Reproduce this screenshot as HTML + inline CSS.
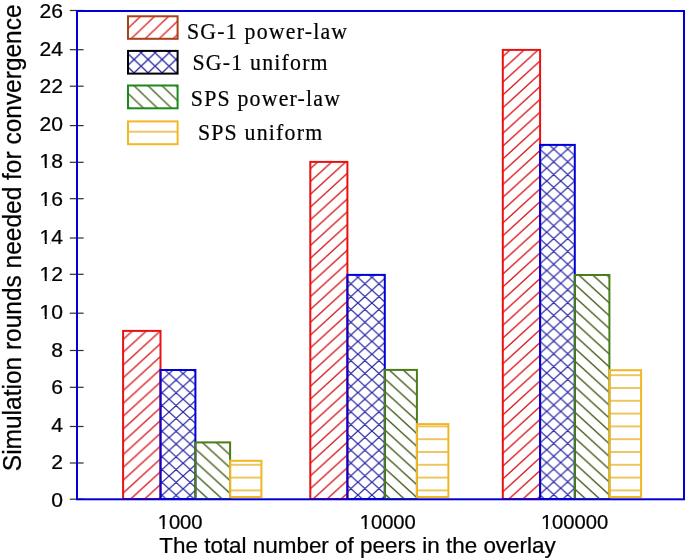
<!DOCTYPE html>
<html><head><meta charset="utf-8"><style>
html,body{margin:0;padding:0;background:#fff;}
svg{display:block;}
.tk{font-family:"Liberation Sans",sans-serif;font-size:20.6px;fill:#000;stroke:#000;stroke-width:0.25px;}
.xl{font-family:"Liberation Sans",sans-serif;font-size:21.8px;fill:#000;stroke:#000;stroke-width:0.25px;}
.yl{font-family:"Liberation Sans",sans-serif;font-size:24.4px;fill:#000;stroke:#000;stroke-width:0.25px;}
.lg{font-family:"Liberation Serif",serif;font-size:23px;fill:#000;letter-spacing:1.26px;stroke:#000;stroke-width:0.22px;}
</style></head><body>
<svg width="685" height="558" viewBox="0 0 685 558">
<defs>
<filter id="nop" x="0" y="0" width="1" height="1"><feOffset dx="0" dy="0"/></filter>
<pattern id="p1" patternUnits="userSpaceOnUse" x="124.40" y="466.30" width="14.0" height="12.8"><path d="M-7.0,6.4 L7.0,-6.4 M0,12.8 L14.0,0 M7.0,19.200000000000003 L21.0,6.4" stroke="#d81e1e" stroke-width="1.3" fill="none"/></pattern>
<pattern id="p2" patternUnits="userSpaceOnUse" x="169.10" y="450.40" width="14.0" height="12.8"><path d="M-7.0,6.4 L7.0,-6.4 M0,12.8 L14.0,0 M7.0,19.200000000000003 L21.0,6.4 M-7.0,6.4 L7.0,19.200000000000003 M0,0 L14.0,12.8 M7.0,-6.4 L21.0,6.4" stroke="#2424a4" stroke-width="1.25" fill="none"/></pattern>
<pattern id="p3" patternUnits="userSpaceOnUse" x="196.30" y="462.50" width="14.0" height="12.8"><path d="M-7.0,6.4 L7.0,19.200000000000003 M0,0 L14.0,12.8 M7.0,-6.4 L21.0,6.4" stroke="#405e1a" stroke-width="1.3" fill="none"/></pattern>
<pattern id="p4" patternUnits="userSpaceOnUse" x="0.00" y="464.80" width="14.0" height="12.8"><path d="M-1,0 L15.0,0 M-1,12.8 L15.0,12.8" stroke="#e8b42c" stroke-width="1.3" fill="none"/></pattern>
<pattern id="p5" patternUnits="userSpaceOnUse" x="311.90" y="487.30" width="14.0" height="12.8"><path d="M-7.0,6.4 L7.0,-6.4 M0,12.8 L14.0,0 M7.0,19.200000000000003 L21.0,6.4" stroke="#d81e1e" stroke-width="1.3" fill="none"/></pattern>
<pattern id="p6" patternUnits="userSpaceOnUse" x="357.90" y="315.80" width="14.0" height="12.8"><path d="M-7.0,6.4 L7.0,-6.4 M0,12.8 L14.0,0 M7.0,19.200000000000003 L21.0,6.4 M-7.0,6.4 L7.0,19.200000000000003 M0,0 L14.0,12.8 M7.0,-6.4 L21.0,6.4" stroke="#2424a4" stroke-width="1.25" fill="none"/></pattern>
<pattern id="p7" patternUnits="userSpaceOnUse" x="385.90" y="469.30" width="14.0" height="12.8"><path d="M-7.0,6.4 L7.0,19.200000000000003 M0,0 L14.0,12.8 M7.0,-6.4 L21.0,6.4" stroke="#405e1a" stroke-width="1.3" fill="none"/></pattern>
<pattern id="p8" patternUnits="userSpaceOnUse" x="0.00" y="464.80" width="14.0" height="12.8"><path d="M-1,0 L15.0,0 M-1,12.8 L15.0,12.8" stroke="#e8b42c" stroke-width="1.3" fill="none"/></pattern>
<pattern id="p9" patternUnits="userSpaceOnUse" x="504.00" y="465.10" width="14.0" height="12.8"><path d="M-7.0,6.4 L7.0,-6.4 M0,12.8 L14.0,0 M7.0,19.200000000000003 L21.0,6.4" stroke="#d81e1e" stroke-width="1.3" fill="none"/></pattern>
<pattern id="p10" patternUnits="userSpaceOnUse" x="546.70" y="475.40" width="14.0" height="12.8"><path d="M-7.0,6.4 L7.0,-6.4 M0,12.8 L14.0,0 M7.0,19.200000000000003 L21.0,6.4 M-7.0,6.4 L7.0,19.200000000000003 M0,0 L14.0,12.8 M7.0,-6.4 L21.0,6.4" stroke="#2424a4" stroke-width="1.25" fill="none"/></pattern>
<pattern id="p11" patternUnits="userSpaceOnUse" x="575.90" y="477.20" width="14.0" height="12.8"><path d="M-7.0,6.4 L7.0,19.200000000000003 M0,0 L14.0,12.8 M7.0,-6.4 L21.0,6.4" stroke="#405e1a" stroke-width="1.3" fill="none"/></pattern>
<pattern id="p12" patternUnits="userSpaceOnUse" x="0.00" y="464.80" width="14.0" height="12.8"><path d="M-1,0 L15.0,0 M-1,12.8 L15.0,12.8" stroke="#e8b42c" stroke-width="1.3" fill="none"/></pattern>
<pattern id="p13" patternUnits="userSpaceOnUse" x="128.70" y="27.70" width="14.0" height="13.4"><path d="M-7.0,6.7 L7.0,-6.7 M0,13.4 L14.0,0 M7.0,20.1 L21.0,6.7" stroke="#d81e1e" stroke-width="1.3" fill="none"/></pattern>
<pattern id="p14" patternUnits="userSpaceOnUse" x="148.10" y="59.50" width="14.0" height="13.4"><path d="M-7.0,6.7 L7.0,-6.7 M0,13.4 L14.0,0 M7.0,20.1 L21.0,6.7 M-7.0,6.7 L7.0,20.1 M0,0 L14.0,13.4 M7.0,-6.7 L21.0,6.7" stroke="#2424a4" stroke-width="1.3" fill="none"/></pattern>
<pattern id="p15" patternUnits="userSpaceOnUse" x="145.60" y="96.80" width="14.0" height="13.4"><path d="M-7.0,6.7 L7.0,20.1 M0,0 L14.0,13.4 M7.0,-6.7 L21.0,6.7" stroke="#405e1a" stroke-width="1.3" fill="none"/></pattern>
<pattern id="p16" patternUnits="userSpaceOnUse" x="0.00" y="131.70" width="14.0" height="13.4"><path d="M-1,0 L15.0,0 M-1,13.4 L15.0,13.4" stroke="#e8b42c" stroke-width="1.3" fill="none"/></pattern>
</defs>
<rect x="0" y="0" width="685" height="558" fill="#fff"/>
<rect x="123.10" y="330.90" width="37.40" height="168.10" fill="url(#p1)" stroke="#e81212" stroke-width="2"/>
<rect x="160.50" y="370.00" width="34.90" height="129.00" fill="url(#p2)" stroke="#0000d8" stroke-width="2"/>
<rect x="195.40" y="442.40" width="34.70" height="56.60" fill="url(#p3)" stroke="#4a7c18" stroke-width="2"/>
<rect x="230.10" y="460.80" width="31.30" height="36.20" fill="url(#p4)" stroke="#f0b624" stroke-width="2"/>
<rect x="310.30" y="161.90" width="37.10" height="337.10" fill="url(#p5)" stroke="#e81212" stroke-width="2"/>
<rect x="347.40" y="274.90" width="37.40" height="224.10" fill="url(#p6)" stroke="#0000d8" stroke-width="2"/>
<rect x="384.80" y="369.90" width="32.10" height="129.10" fill="url(#p7)" stroke="#4a7c18" stroke-width="2"/>
<rect x="416.90" y="424.10" width="31.50" height="72.90" fill="url(#p8)" stroke="#f0b624" stroke-width="2"/>
<rect x="502.80" y="49.90" width="37.30" height="449.10" fill="url(#p9)" stroke="#e81212" stroke-width="2"/>
<rect x="540.10" y="144.90" width="34.70" height="354.10" fill="url(#p10)" stroke="#0000d8" stroke-width="2"/>
<rect x="574.80" y="275.00" width="34.60" height="224.00" fill="url(#p11)" stroke="#4a7c18" stroke-width="2"/>
<rect x="609.40" y="370.20" width="31.70" height="126.80" fill="url(#p12)" stroke="#f0b624" stroke-width="2"/>
<line x1="69.8" y1="499.20" x2="83.6" y2="499.20" stroke="#2e2e2e" stroke-width="1.2"/>
<line x1="69.8" y1="463.00" x2="83.6" y2="463.00" stroke="#2e2e2e" stroke-width="1.2"/>
<line x1="69.8" y1="426.50" x2="83.6" y2="426.50" stroke="#2e2e2e" stroke-width="1.2"/>
<line x1="69.8" y1="387.30" x2="83.6" y2="387.30" stroke="#2e2e2e" stroke-width="1.2"/>
<line x1="69.8" y1="350.50" x2="83.6" y2="350.50" stroke="#2e2e2e" stroke-width="1.2"/>
<line x1="69.8" y1="313.20" x2="83.6" y2="313.20" stroke="#2e2e2e" stroke-width="1.2"/>
<line x1="69.8" y1="274.30" x2="83.6" y2="274.30" stroke="#2e2e2e" stroke-width="1.2"/>
<line x1="69.8" y1="238.00" x2="83.6" y2="238.00" stroke="#2e2e2e" stroke-width="1.2"/>
<line x1="69.8" y1="198.70" x2="83.6" y2="198.70" stroke="#2e2e2e" stroke-width="1.2"/>
<line x1="69.8" y1="162.30" x2="83.6" y2="162.30" stroke="#2e2e2e" stroke-width="1.2"/>
<line x1="69.8" y1="125.60" x2="83.6" y2="125.60" stroke="#2e2e2e" stroke-width="1.2"/>
<line x1="69.8" y1="86.20" x2="83.6" y2="86.20" stroke="#2e2e2e" stroke-width="1.2"/>
<line x1="69.8" y1="49.70" x2="83.6" y2="49.70" stroke="#2e2e2e" stroke-width="1.2"/>
<line x1="69.8" y1="10.50" x2="83.6" y2="10.50" stroke="#2e2e2e" stroke-width="1.2"/>
<rect x="77" y="11" width="607" height="488.3" fill="none" stroke="#0000d4" stroke-width="2"/>
<g filter="url(#nop)">
<g transform="translate(63.00,507.00) scale(1.025,1)"><text x="0" y="0" text-anchor="end" class="tk">0</text></g>
<g transform="translate(63.00,469.38) scale(1.025,1)"><text x="0" y="0" text-anchor="end" class="tk">2</text></g>
<g transform="translate(63.00,431.76) scale(1.025,1)"><text x="0" y="0" text-anchor="end" class="tk">4</text></g>
<g transform="translate(63.00,394.14) scale(1.025,1)"><text x="0" y="0" text-anchor="end" class="tk">6</text></g>
<g transform="translate(63.00,356.52) scale(1.025,1)"><text x="0" y="0" text-anchor="end" class="tk">8</text></g>
<g transform="translate(63.00,318.90) scale(1.025,1)"><text x="0" y="0" text-anchor="end" class="tk">10</text><rect x="-21.61" y="-3.02" width="3.80" height="4.22" fill="#fff"/><rect x="-15.84" y="-3.02" width="3.64" height="4.22" fill="#fff"/></g>
<g transform="translate(63.00,281.28) scale(1.025,1)"><text x="0" y="0" text-anchor="end" class="tk">12</text><rect x="-21.61" y="-3.02" width="3.80" height="4.22" fill="#fff"/><rect x="-15.84" y="-3.02" width="3.64" height="4.22" fill="#fff"/></g>
<g transform="translate(63.00,243.66) scale(1.025,1)"><text x="0" y="0" text-anchor="end" class="tk">14</text><rect x="-21.61" y="-3.02" width="3.80" height="4.22" fill="#fff"/><rect x="-15.84" y="-3.02" width="3.64" height="4.22" fill="#fff"/></g>
<g transform="translate(63.00,206.04) scale(1.025,1)"><text x="0" y="0" text-anchor="end" class="tk">16</text><rect x="-21.61" y="-3.02" width="3.80" height="4.22" fill="#fff"/><rect x="-15.84" y="-3.02" width="3.64" height="4.22" fill="#fff"/></g>
<g transform="translate(63.00,168.42) scale(1.025,1)"><text x="0" y="0" text-anchor="end" class="tk">18</text><rect x="-21.61" y="-3.02" width="3.80" height="4.22" fill="#fff"/><rect x="-15.84" y="-3.02" width="3.64" height="4.22" fill="#fff"/></g>
<g transform="translate(63.00,130.80) scale(1.025,1)"><text x="0" y="0" text-anchor="end" class="tk">20</text></g>
<g transform="translate(63.00,93.18) scale(1.025,1)"><text x="0" y="0" text-anchor="end" class="tk">22</text></g>
<g transform="translate(63.00,55.56) scale(1.025,1)"><text x="0" y="0" text-anchor="end" class="tk">24</text></g>
<g transform="translate(63.00,17.94) scale(1.025,1)"><text x="0" y="0" text-anchor="end" class="tk">26</text></g>
<rect x="128" y="16.30" width="49.6" height="22.50" fill="url(#p13)" stroke="#a8401a" stroke-width="2"/>
<text x="0" y="0" transform="translate(187.00,38.7) scale(0.95,1)" class="lg">SG-1 power-law</text>
<rect x="128" y="50.90" width="49.6" height="22.70" fill="url(#p14)" stroke="#000000" stroke-width="2"/>
<text x="0" y="0" transform="translate(192.50,70.4) scale(0.95,1)" class="lg">SG-1 uniform</text>
<rect x="128" y="85.50" width="49.6" height="22.80" fill="url(#p15)" stroke="#1a8a1a" stroke-width="2"/>
<text x="0" y="0" transform="translate(190.80,105.9) scale(0.95,1)" class="lg">SPS power-law</text>
<rect x="128" y="121.40" width="49.6" height="22.80" fill="url(#p16)" stroke="#f2b824" stroke-width="2"/>
<text x="0" y="0" transform="translate(197.90,140.4) scale(0.95,1)" class="lg">SPS uniform</text>
<g transform="translate(180.10,529.40) scale(0.98,1)"><text x="0" y="0" text-anchor="middle" class="tk">1000</text><rect x="-21.61" y="-3.02" width="3.80" height="4.22" fill="#fff"/><rect x="-15.84" y="-3.02" width="3.64" height="4.22" fill="#fff"/></g>
<g transform="translate(387.75,529.40) scale(0.98,1)"><text x="0" y="0" text-anchor="middle" class="tk">10000</text><rect x="-27.33" y="-3.02" width="3.80" height="4.22" fill="#fff"/><rect x="-21.57" y="-3.02" width="3.64" height="4.22" fill="#fff"/></g>
<g transform="translate(574.55,529.40) scale(0.98,1)"><text x="0" y="0" text-anchor="middle" class="tk">100000</text><rect x="-33.06" y="-3.02" width="3.80" height="4.22" fill="#fff"/><rect x="-27.30" y="-3.02" width="3.64" height="4.22" fill="#fff"/></g>
<text x="0" y="0" transform="translate(357.5,553.2) scale(1.029,1)" text-anchor="middle" class="xl">The total number of peers in the overlay</text>
<text x="0" y="0" transform="translate(21.2,237.8) rotate(-90) scale(1.004,1.03)" text-anchor="middle" class="yl">Simulation rounds needed for convergence</text>
</g>
</svg>
</body></html>
